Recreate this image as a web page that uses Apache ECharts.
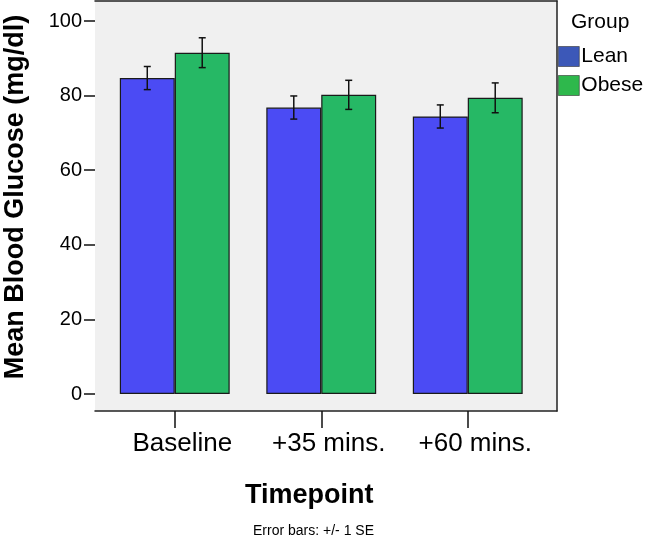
<!DOCTYPE html>
<html>
<head>
<meta charset="utf-8">
<script src="https://cdn.jsdelivr.net/npm/echarts@6/dist/echarts.min.js"></script>
<style>
html,body{margin:0;padding:0;background:#fff;}
#chart{width:649px;height:540px;}
</style>
</head>
<body>
<div id="chart"></div>
<script>
var categories = ['Baseline', '+35 mins.', '+60 mins.'];
var groups = ['Lean', 'Obese'];
var leanMeans = [84.7, 76.8, 74.4];
var obeseMeans = [91.5, 80.2, 79.4];
var leanSE = [3.1, 3.1, 3.1];
var obeseSE = [4.0, 3.9, 4.0];
var yTicks = [0, 20, 40, 60, 80, 100];

var FONT = 'Arial, "Liberation Sans", sans-serif';

function errData(means, se) {
  return means.map(function (m, i) { return [i, m - se[i], m + se[i]]; });
}

function makeErrRender(side) {
  return function (params, api) {
    var i = api.value(0);
    var lo = api.coord([i, api.value(1)]);
    var hi = api.coord([i, api.value(2)]);
    var band = api.size([1, 0])[0];
    var bw = band * 0.75 / 2;
    var x = lo[0] + side * bw / 2;
    var cap = 3.5;
    var st = { stroke: '#111', lineWidth: 1.5 };
    return {
      type: 'group',
      children: [
        { type: 'line', shape: { x1: x, y1: hi[1], x2: x, y2: lo[1] }, style: st },
        { type: 'line', shape: { x1: x - cap, y1: hi[1], x2: x + cap, y2: hi[1] }, style: st },
        { type: 'line', shape: { x1: x - cap, y1: lo[1], x2: x + cap, y2: lo[1] }, style: st }
      ]
    };
  };
}

var hiddenVal = {
  type: 'value', min: 0, max: 1, gridIndex: 0,
  axisLabel: { show: false }, axisTick: { show: false }, splitLine: { show: false },
  axisLine: { show: true, onZero: false, lineStyle: { color: '#222', width: 1.5 } }
};

var chart = echarts.init(document.getElementById('chart'));
chart.setOption({
  animation: false,
  backgroundColor: '#ffffff',
  textStyle: { fontFamily: FONT },
  title: [
    { text: 'Group', left: 571, top: 12, padding: 0,
      textStyle: { fontFamily: FONT, fontSize: 21, fontWeight: 'normal', color: '#000' } },
    { text: 'Error bars: +/- 1 SE', left: 253, top: 524, padding: 0,
      textStyle: { fontFamily: FONT, fontSize: 14, fontWeight: 'normal', color: '#000' } }
  ],
  legend: {
    orient: 'vertical', left: 558, top: 46, padding: 0,
    itemWidth: 21, itemHeight: 20, itemGap: 8, icon: 'rect',
    selectedMode: false,
    textStyle: { fontFamily: FONT, fontSize: 21, color: '#000', padding: [0, 0, 0, -3] },
    data: [
      { name: 'Lean', itemStyle: { color: '#3c58b8', borderColor: '#333', borderWidth: 0.6 } },
      { name: 'Obese', itemStyle: { color: '#2eb84c', borderColor: '#333', borderWidth: 0.6 } }
    ]
  },
  grid: [
    { left: 95, right: 92, top: 1, bottom: 129, show: true, backgroundColor: '#f0f0f0', borderWidth: 0,
      containLabel: false, outerBoundsMode: 'none' },
    { left: 101.5, right: 108, top: 1, bottom: 129, containLabel: false, outerBoundsMode: 'none' }
  ],
  xAxis: [
    Object.assign({}, hiddenVal, { position: 'bottom' }),
    Object.assign({}, hiddenVal, { position: 'top' }),
    {
      type: 'category', gridIndex: 1, data: categories, position: 'bottom',
      axisLine: { show: false, onZero: false },
      axisTick: { show: true, alignWithLabel: true, interval: 0, length: 17, lineStyle: { color: '#111', width: 1.5 } },
      axisLabel: { interval: 0, hideOverlap: false, fontFamily: FONT, fontSize: 26, color: '#000', margin: 20, padding: [0, 0, 0, 15] },
      splitLine: { show: false },
      name: 'Timepoint', nameLocation: 'middle', nameGap: 71,
      nameTextStyle: { fontFamily: FONT, fontSize: 27, fontWeight: 'bold', color: '#000', padding: [0, 24, 0, 0] }
    }
  ],
  yAxis: [
    Object.assign({}, hiddenVal, { position: 'right' }),
    {
      type: 'value', gridIndex: 1, position: 'left', offset: 6.5,
      min: -4.56, max: 105.36,
      axisLine: { show: false, onZero: false },
      splitLine: { show: false },
      axisTick: { show: true, customValues: yTicks, length: 11, lineStyle: { color: '#111', width: 1.5 } },
      axisLabel: { customValues: yTicks, fontFamily: FONT, fontSize: 20, color: '#000', margin: 13 },
      name: 'Mean Blood Glucose (mg/dl)', nameLocation: 'middle', nameGap: 66, nameRotate: 90,
      nameTextStyle: { fontFamily: FONT, fontSize: 27, fontWeight: 'bold', color: '#000', padding: [0, 0, 0, 18] }
    }
  ],
  series: [
    {
      name: groups[0], type: 'bar', xAxisIndex: 2, yAxisIndex: 1, data: leanMeans,
      barGap: '0%', barCategoryGap: '25%',
      itemStyle: { color: '#4b4bf4', borderColor: '#1a1a1a', borderWidth: 1.2 }
    },
    {
      name: groups[1], type: 'bar', xAxisIndex: 2, yAxisIndex: 1, data: obeseMeans,
      barGap: '0%', barCategoryGap: '25%',
      itemStyle: { color: '#26b865', borderColor: '#1a1a1a', borderWidth: 1.2 }
    },
    {
      name: 'Lean SE', type: 'custom', xAxisIndex: 2, yAxisIndex: 1, z: 5,
      data: errData(leanMeans, leanSE), encode: { x: 0, y: [1, 2] },
      renderItem: makeErrRender(-1)
    },
    {
      name: 'Obese SE', type: 'custom', xAxisIndex: 2, yAxisIndex: 1, z: 5,
      data: errData(obeseMeans, obeseSE), encode: { x: 0, y: [1, 2] },
      renderItem: makeErrRender(1)
    }
  ]
});
</script>
</body>
</html>
